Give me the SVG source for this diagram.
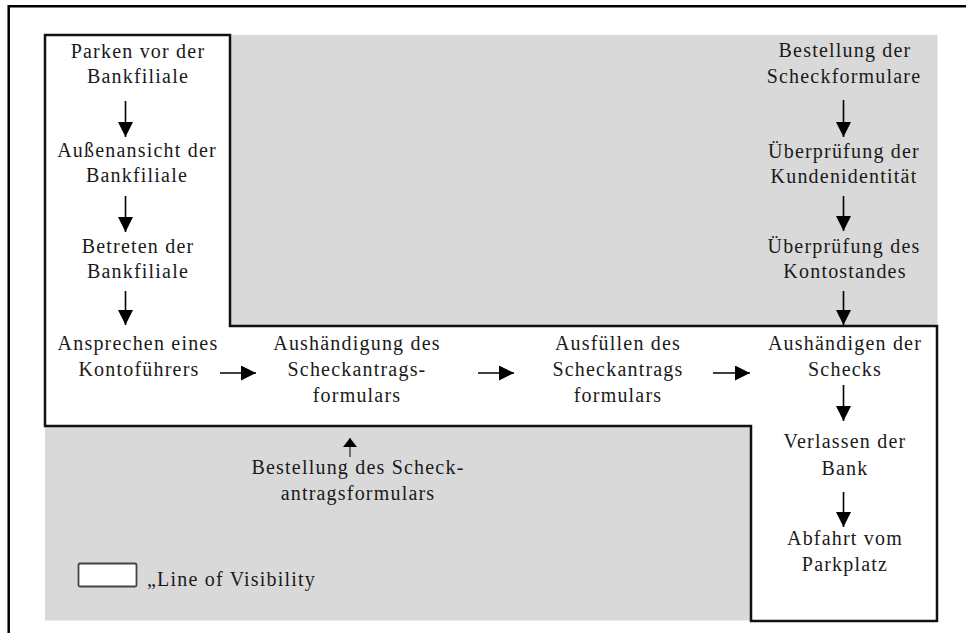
<svg xmlns="http://www.w3.org/2000/svg" width="966" height="633" viewBox="0 0 966 633">
<style>
  .t { font-family: "Liberation Serif", "Times New Roman", serif; font-size: 20px; letter-spacing: 1.2px; fill: #1a1a1a; text-anchor: middle; }
  .tl { text-anchor: start; }
  .c { stroke: #000; stroke-width: 1.6; fill: none; }
  .cs { stroke: #000; stroke-width: 1; fill: none; }
</style>
<defs>
  <marker id="ah" markerUnits="userSpaceOnUse" markerWidth="16" markerHeight="15" refX="15" refY="7.5" orient="auto" viewBox="0 0 16 15">
    <path d="M0,0 L15,7.5 L0,15 Z" fill="#000"/>
  </marker>
  <marker id="ahs" markerUnits="userSpaceOnUse" markerWidth="10" markerHeight="14" refX="9" refY="7" orient="auto" viewBox="0 0 10 14">
    <path d="M0,0 L9,7 L0,14 Z" fill="#000"/>
  </marker>
</defs>
<rect width="966" height="633" fill="#fff"/>
<g id="frame">
  <path d="M8.7,633 V6.2 H966" stroke="#000" stroke-width="2.5" fill="none"/>
</g>
<g id="background">
  <rect x="45" y="35" width="892.5" height="585.5" fill="#d9d9d9"/>
  <path id="line-of-visibility" d="M45,35 H230 V326 H937 V621 H751 V426 H45 Z" fill="#fff" stroke="#111" stroke-width="2.5"/>
</g>
<g id="legend">
  <rect x="78.5" y="563.5" width="58" height="23" rx="1.5" fill="#fff" stroke="#444" stroke-width="1.8"/>
  <text class="t tl" x="147" y="586">„Line of Visibility</text>
</g>
<g id="n1"><text class="t" x="138" y="58">Parken vor der</text><text class="t" x="138" y="83">Bankfiliale</text></g>
<g id="n2"><text class="t" x="137" y="157">Außenansicht der</text><text class="t" x="137" y="182">Bankfiliale</text></g>
<g id="n3"><text class="t" x="138" y="253">Betreten der</text><text class="t" x="138" y="278">Bankfiliale</text></g>
<g id="n4"><text class="t" x="138" y="350">Ansprechen eines</text><text class="t" x="139" y="376">Kontoführers</text></g>
<g id="n5"><text class="t" x="357" y="350">Aushändigung des</text><text class="t" x="357" y="376">Scheckantrags-</text><text class="t" x="357" y="402">formulars</text></g>
<g id="n6"><text class="t" x="618" y="350">Ausfüllen des</text><text class="t" x="618" y="376">Scheckantrags</text><text class="t" x="618" y="402">formulars</text></g>
<g id="n7"><text class="t" x="845" y="350">Aushändigen der</text><text class="t" x="845" y="376">Schecks</text></g>
<g id="n8"><text class="t" x="845" y="448">Verlassen der</text><text class="t" x="845" y="475">Bank</text></g>
<g id="n9"><text class="t" x="845" y="545">Abfahrt vom</text><text class="t" x="845" y="571">Parkplatz</text></g>
<g id="n10"><text class="t" x="845" y="57">Bestellung der</text><text class="t" x="844" y="83">Scheckformulare</text></g>
<g id="n11"><text class="t" x="844" y="158">Überprüfung der</text><text class="t" x="844" y="183">Kundenidentität</text></g>
<g id="n12"><text class="t" x="844" y="253">Überprüfung des</text><text class="t" x="845" y="278">Kontostandes</text></g>
<g id="n13"><text class="t" x="358" y="474">Bestellung des Scheck-</text><text class="t" x="358" y="500">antragsformulars</text></g>
<g id="connectors">
  <line class="c" x1="125.5" y1="101" x2="125.5" y2="137" marker-end="url(#ah)"/>
  <line class="c" x1="125.5" y1="196" x2="125.5" y2="232" marker-end="url(#ah)"/>
  <line class="c" x1="125.5" y1="291" x2="125.5" y2="325" marker-end="url(#ah)"/>
  <line class="c" x1="220" y1="373" x2="256" y2="373" marker-end="url(#ah)"/>
  <line class="c" x1="478" y1="373" x2="514" y2="373" marker-end="url(#ah)"/>
  <line class="c" x1="713" y1="373" x2="750" y2="373" marker-end="url(#ah)"/>
  <line class="c" x1="843.5" y1="385" x2="843.5" y2="421" marker-end="url(#ah)"/>
  <line class="c" x1="843.5" y1="492" x2="843.5" y2="527" marker-end="url(#ah)"/>
  <line class="c" x1="843.5" y1="100" x2="843.5" y2="137" marker-end="url(#ah)"/>
  <line class="c" x1="843.5" y1="196" x2="843.5" y2="231" marker-end="url(#ah)"/>
  <line class="c" x1="843.5" y1="291" x2="843.5" y2="325" marker-end="url(#ah)"/>
  <line class="cs" x1="350" y1="457" x2="350" y2="438" marker-end="url(#ahs)"/>
</g>
</svg>
